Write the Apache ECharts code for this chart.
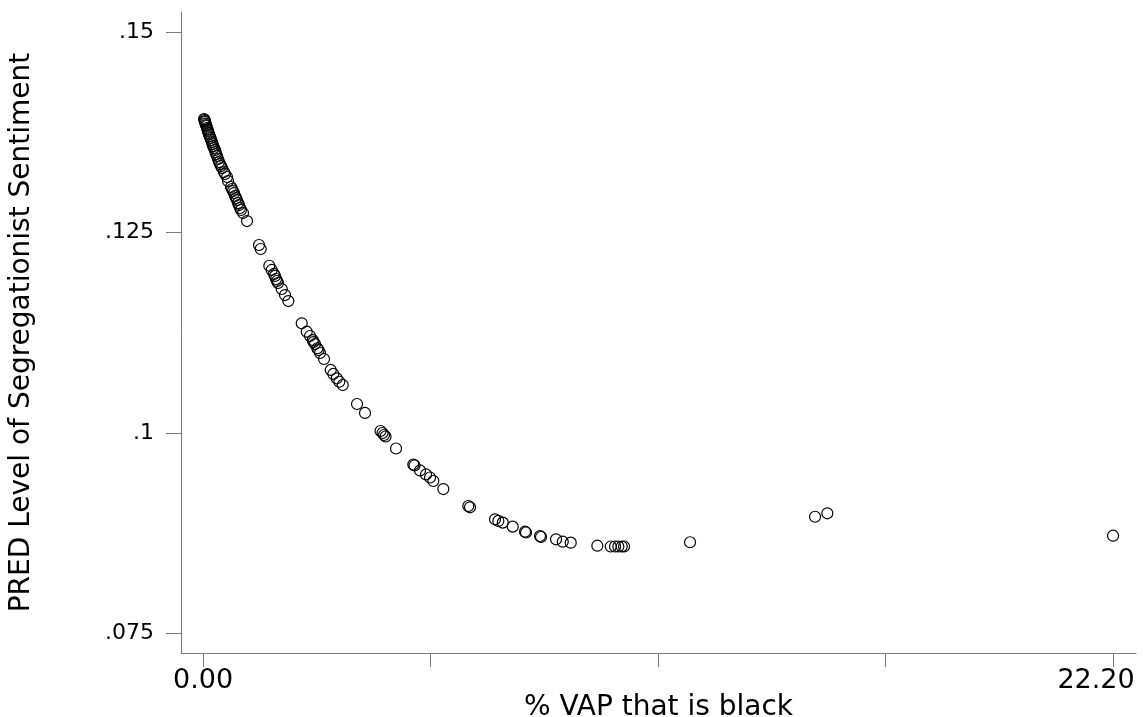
<!DOCTYPE html>
<html>
<head>
<meta charset="utf-8">
<script src="https://cdn.jsdelivr.net/npm/echarts@6/dist/echarts.min.js"></script>
<style>html,body{margin:0;padding:0;background:#fff;}#c{width:1143px;height:717px;}</style>
</head>
<body>
<div id="c"></div>
<script>
// % VAP that is black
const pctBlack = [
0.0244,0.0366,0.0488,0.0488,0.0610,0.0732,0.0854,0.0976,0.1098,0.1220,0.1342,0.1464,0.1708,0.1830,0.1952,0.2196,0.2318,0.2440,0.2684,0.2928,0.3050,0.3172,0.3416,0.3659,0.3903,0.4147,0.4391,0.4635,0.5123,0.5367,0.5855,0.6099,0.6831,0.7075,0.7319,0.7563,0.7807,0.8051,0.8295,0.8539,0.8783,0.9027,0.9271,0.9758,1.0734,
1.3662,1.4077,1.6175,1.6760,1.7321,1.7565,1.7809,1.8053,1.8297,1.9200,2.0005,2.0810,
2.4079,2.5299,2.6104,2.6763,2.6958,2.7324,2.7885,2.8178,2.8544,2.9519,3.1154,3.1788,3.2618,3.3252,3.4081,
3.7570,3.9522,4.3303,4.3791,4.4157,4.4523,4.7085,5.1305,5.1598,5.2940,5.4404,5.5379,5.6184,5.8624,
6.4723,6.5138,7.1237,7.2042,7.3116,7.5555,7.8556,7.8800,8.2215,8.2459,8.6119,8.7753,8.9705,9.6194,9.9463,10.0512,10.1317,10.2147,10.2708,
11.881,14.930,15.230,22.20
];
// PRED Level of Segregationist Sentiment
const predSeg = [
0.13919,0.13907,0.13894,0.13882,0.13863,0.13844,0.13832,0.13807,0.13788,0.13770,0.13745,0.13726,0.13701,0.13682,0.13657,0.13632,0.13607,0.13582,0.13557,0.13532,0.13507,0.13482,0.13457,0.13420,0.13382,0.13357,0.13332,0.13307,0.13257,0.13232,0.13195,0.13145,0.13070,0.13045,0.13020,0.12995,0.12958,0.12933,0.12908,0.12870,0.12845,0.12808,0.12783,0.12745,0.12645,
0.12346,0.12296,0.12087,0.12034,0.11984,0.11959,0.11921,0.11896,0.11871,0.11796,0.11721,0.11646,
0.11368,0.11263,0.11209,0.11159,0.11134,0.11109,0.11056,0.11034,0.10997,0.10922,0.10785,0.10735,0.10681,0.10638,0.10597,
0.10360,0.10248,0.10023,0.09998,0.09973,0.09954,0.09804,0.09604,0.09592,0.09530,0.09480,0.09442,0.09398,0.09298,
0.09086,0.09070,0.08920,0.08899,0.08878,0.08828,0.08765,0.08755,0.08711,0.08699,0.08670,0.08640,0.08628,0.08590,0.08580,0.08580,0.08580,0.08580,0.08580,
0.08633,0.08952,0.08995,0.08715
];
const xTicks = [0, 5.55, 11.1, 16.65, 22.2];
const xLabels = [0, 22.2];
const yTicks = [0.075, 0.1, 0.125, 0.15];
const yTickText = {'0.075': '.075', '0.1': '.1', '0.125': '.125', '0.15': '.15'};

const pts = pctBlack.map((x, i) => [x, predSeg[i]]);
const font = 'DejaVu Sans, Verdana, sans-serif';
const axisGray = '#7a7a7a';

const chart = echarts.init(document.getElementById('c'));
chart.setOption({
  animation: false,
  backgroundColor: '#fff',
  grid: { left: 181, top: 12, right: 7, bottom: 64, containLabel: false, outerBoundsMode: 'none' },
  xAxis: {
    type: 'value', min: -0.537, max: 22.76,
    name: '% VAP that is black', nameLocation: 'middle', nameGap: 41, nameMoveOverlap: false,
    nameTextStyle: { fontFamily: font, fontSize: 28, color: '#000' },
    axisLine: { show: true, onZero: false, lineStyle: { color: axisGray, width: 1 } },
    axisTick: { show: true, length: 14, customValues: xTicks, lineStyle: { color: axisGray } },
    axisLabel: { customValues: xLabels, fontFamily: font, fontSize: 27, color: '#000', margin: 14,
      hideOverlap: false,
      formatter: v => v > 1 ? '{r|' + v.toFixed(2) + '}' : v.toFixed(2),
      rich: { r: { fontFamily: font, fontSize: 27, color: '#000', padding: [0, 34, 0, 0] } } },
    splitLine: { show: false }
  },
  yAxis: {
    type: 'value', min: 0.0725, max: 0.15256,
    name: 'PRED Level of Segregationist Sentiment', nameLocation: 'middle', nameGap: 145, nameMoveOverlap: false,
    nameTextStyle: { fontFamily: font, fontSize: 28, color: '#000' },
    axisLine: { show: true, onZero: false, lineStyle: { color: axisGray, width: 1 } },
    axisTick: { show: true, length: 15, customValues: yTicks, lineStyle: { color: axisGray } },
    axisLabel: { customValues: yTicks, fontFamily: font, fontSize: 22, color: '#000', margin: 27,
      formatter: v => yTickText[String(+v.toFixed(3))] || String(v) },
    splitLine: { show: false }
  },
  series: [{
    type: 'scatter',
    data: pts,
    symbol: 'circle',
    symbolSize: 11,
    itemStyle: { color: 'rgba(0,0,0,0)', borderColor: '#000', borderWidth: 1.2, opacity: 1 },
    emphasis: { disabled: true }
  }]
});
</script>
</body>
</html>
